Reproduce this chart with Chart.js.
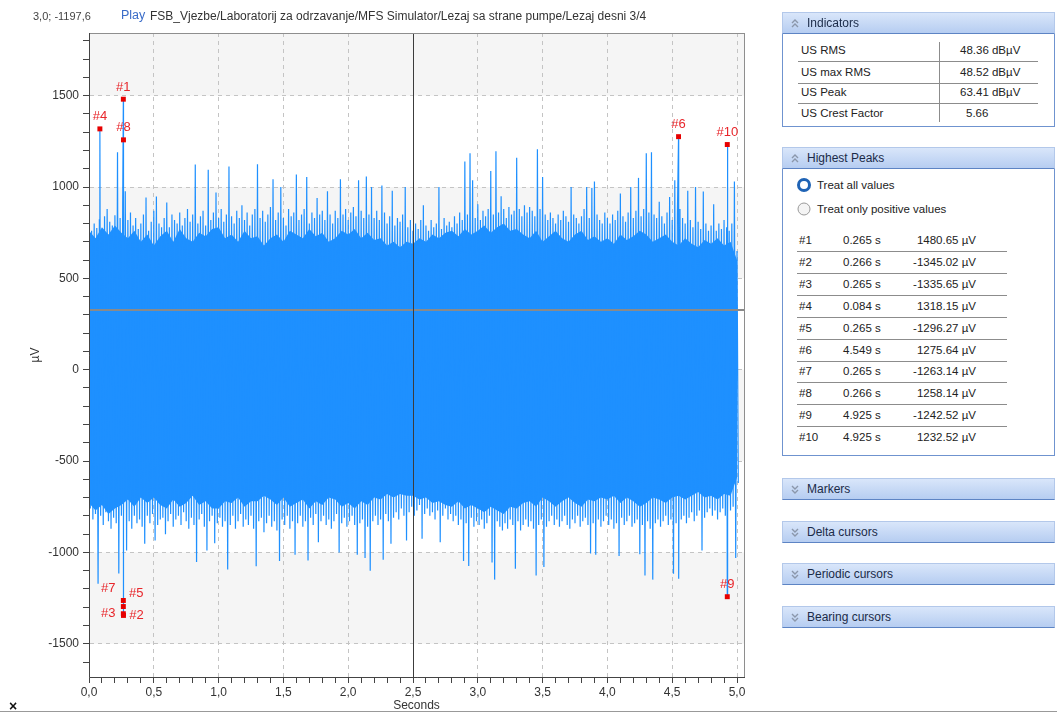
<!DOCTYPE html>
<html>
<head>
<meta charset="utf-8">
<script src="https://cdn.jsdelivr.net/npm/chart.js@4.4.0/dist/chart.umd.min.js"></script>
<style>
body{margin:0;width:1057px;height:713px;overflow:hidden;background:#fff;font-family:"Liberation Sans",Arial,sans-serif;position:relative}
#grafico{position:absolute;left:0;top:0}
.txt{position:absolute;white-space:nowrap;line-height:14px}
.head{position:absolute;left:782px;width:271px;height:20px;background:linear-gradient(#d9e6fa,#b6cdf1);border:1px solid #b3c8ea;border-bottom:1px solid #5d84c4;font-size:12px;color:#1b2b48;line-height:20px}
.head span{position:absolute;left:24px}
.head svg{position:absolute;left:8px;top:5px}
.box{position:absolute;left:782px;width:271px;border:1px solid #6f93cf;border-top:none}
.sep{position:absolute;height:1px;background:#8c8c8c}
.panel{font-size:11.5px;color:#222}
</style>
</head>
<body>
<canvas id="grafico" width="770" height="713"></canvas>

<div class="txt" style="left:33px;top:9px;font-size:11px;color:#444">3,0; -1197,6</div>
<div class="txt" style="left:121px;top:8px;font-size:12.5px;color:#3a6cc8">Play</div>
<div class="txt" style="left:150px;top:9px;font-size:12px;color:#333">FSB_Vjezbe/Laboratorij za odrzavanje/MFS Simulator/Lezaj sa strane pumpe/Lezaj desni 3/4</div>
<div class="txt" style="left:9px;top:699px;font-size:14px;font-weight:bold;color:#111">×</div>
<div class="sep" style="left:0;top:711px;width:1057px;background:#999"></div>

<div id="panel" class="panel"></div>

<script>
// Datos de la señal (envolvente, paso 0.02 s)
var paso = 0.02;
var envolventeSup = [
  790, 760, 800, 775, 820, 760, 840, 880, 810, 790,
  845, 1190, 830, 900, 977, 820, 860, 790, 830, 770,
  800, 850, 943, 760, 810, 870, 948, 800, 780, 830,
  915, 780, 850, 820, 800, 860, 790, 830, 880, 810,
  850, 1123, 800, 840, 870, 790, 1094, 820, 860, 970,
  830, 880, 810, 850, 1112, 840, 800, 870, 830, 900,
  820, 860, 790, 850, 880, 1125, 830, 870, 810, 850,
  890, 1043, 820, 860, 1000, 830, 790, 880, 840, 860,
  1068, 820, 850, 880, 1055, 800, 860, 830, 940, 850,
  870, 820, 977, 850, 800, 870, 830, 1043, 850, 880,
  820, 860, 890, 840, 1037, 870, 830, 1058, 850, 1000,
  830, 870, 820, 1008, 860, 800, 840, 980, 790, 830,
  810, 850, 1000, 780, 820, 760, 800, 770, 820, 900,
  790, 760, 820, 780, 800, 1000, 770, 830, 790, 810,
  780, 840, 800, 860, 820, 1140, 850, 1185, 1037, 830,
  905, 820, 870, 840, 880, 1087, 850, 1196, 860, 950,
  880, 830, 890, 850, 870, 1160, 880, 840, 900, 860,
  890, 870, 840, 1207, 880, 1055, 850, 820, 860, 830,
  800, 850, 820, 870, 840, 810, 1000, 850, 830, 800,
  840, 880, 1000, 830, 995, 1030, 850, 820, 800, 860,
  830, 800, 850, 820, 870, 965, 840, 810, 860, 1000,
  830, 870, 1050, 840, 880, 1185, 860, 1190, 850, 830,
  920, 840, 800, 860, 945, 820, 1037, 850, 880, 830,
  800, 980, 820, 780, 1000, 810, 770, 975, 800, 760,
  790, 905, 760, 800, 770, 820, 780, 760, 800, 1030,
  650
];
var envolventeInf = [
  -760, -820, -790, -1171, -800, -850, -780, -830, -870, -810,
  -840, -1116, -800, -850, -990, -830, -870, -800, -840, -820,
  -860, -952, -800, -840, -790, -935, -850, -820, -810, -900,
  -830, -790, -860, -820, -800, -850, -780, -830, -870, -810,
  -850, -1052, -820, -790, -860, -990, -830, -800, -950, -840,
  -810, -860, -830, -1094, -850, -800, -870, -830, -790, -860,
  -820, -850, -800, -870, -1076, -830, -810, -890, -840, -800,
  -860, -830, -880, -1047, -820, -850, -800, -870, -830, -1013,
  -840, -800, -860, -830, -1044, -810, -850, -790, -945, -830,
  -800, -850, -820, -870, -830, -790, -1000, -840, -810, -860,
  -830, -800, -850, -1013, -840, -820, -1030, -860, -1100, -830,
  -800, -850, -820, -1040, -790, -830, -952, -810, -780, -820,
  -760, -800, -935, -780, -750, -800, -770, -740, -925, -790,
  -760, -800, -780, -820, -770, -945, -800, -760, -820, -790,
  -830, -800, -850, -820, -1047, -840, -1075, -810, -860, -830,
  -850, -820, -870, -840, -800, -1055, -1149, -830, -860, -880,
  -840, -870, -820, -850, -1089, -830, -880, -850, -820, -860,
  -830, -870, -1126, -850, -820, -1080, -860, -830, -800, -850,
  -820, -860, -830, -800, -850, -870, -820, -840, -800, -860,
  -830, -810, -850, -1006, -840, -1013, -820, -860, -830, -800,
  -850, -820, -870, -840, -1020, -810, -850, -830, -800, -860,
  -840, -820, -1010, -850, -1126, -830, -870, -1149, -840, -820,
  -860, -830, -800, -850, -820, -1117, -840, -1144, -820, -800,
  -840, -810, -780, -830, -800, -770, -990, -810, -780, -760,
  -800, -770, -820, -780, -760, -800, -790, -770, -750, -1030,
  -620
];

// Borde de la zona densa de la señal (paso 0.05 s)
var pasoNucleo = 0.05;
var nucleoSup = [
  760, 720, 780, 740, 790, 750, 720, 760, 700, 740,
  680, 730, 760, 700, 770, 720, 700, 750, 730, 770,
  780, 720, 740, 700, 760, 720, 730, 680, 720, 740,
  700, 760, 740, 720, 770, 730, 750, 700, 720, 760,
  740, 770, 720, 750, 710, 720, 680, 700, 670, 700,
  690, 720, 700, 740, 720, 750, 760, 730, 770, 740,
  760, 790, 750, 780, 800, 760, 770, 740, 720, 760,
  700, 730, 760, 720, 700, 740, 760, 710, 730, 700,
  720, 690, 740, 710, 730, 760, 740, 700, 720, 740,
  700, 680, 720, 690, 670, 710, 690, 720, 680, 700,
  600
];
var nucleoInf = [
  -730, -770, -740, -790, -760, -740, -710, -750, -700, -730,
  -700, -740, -760, -710, -750, -730, -690, -740, -720, -760,
  -760, -720, -730, -700, -750, -720, -720, -690, -710, -740,
  -700, -750, -730, -710, -760, -720, -740, -700, -710, -750,
  -730, -760, -720, -740, -700, -710, -680, -700, -680, -690,
  -690, -710, -700, -730, -720, -740, -750, -720, -760, -740,
  -760, -780, -750, -770, -790, -750, -760, -730, -720, -750,
  -700, -720, -750, -720, -700, -730, -750, -710, -720, -700,
  -710, -690, -730, -700, -720, -750, -730, -700, -710, -730,
  -700, -690, -710, -690, -670, -700, -690, -710, -680, -690,
  -590
];

// Picos mas altos
var picoNombre = ['#1', '#2', '#3', '#4', '#5', '#6', '#7', '#8', '#9', '#10'];
var picoTiempo = [0.265, 0.266, 0.265, 0.084, 0.265, 4.549, 0.265, 0.266, 4.925, 4.925];
var picoValor = [1480.65, -1345.02, -1335.65, 1318.15, -1296.27, 1275.64, -1263.14, 1258.14, -1242.52, 1232.52];

// Indicadores
var indicadorNombre = ['US RMS', 'US max RMS', 'US Peak', 'US Crest Factor'];
var indicadorValor = ['48.36 dBµV', '48.52 dBµV', '63.41 dBµV', '5.66'];

// Ejes
var ticksX = [];
for (var a = 0; a <= 50; a++) ticksX.push(a / 10);
var ticksY = [];
for (var b = -16; b <= 18; b++) ticksY.push(b * 100);
var cursorX = 2.5;
var cursorY = 325;

var panelesCerrados = ['Markers', 'Delta cursors', 'Periodic cursors', 'Bearing cursors'];

function chevron(arriba){
  var p1 = arriba ? '1,5 4,2 7,5' : '1,2 4,5 7,2';
  var p2 = arriba ? '1,9 4,6 7,9' : '1,6 4,9 7,6';
  return '<svg width="9" height="11"><polyline points="' + p1 + '" fill="none" stroke="#8b97ab" stroke-width="1.4"/>' +
         '<polyline points="' + p2 + '" fill="none" stroke="#8b97ab" stroke-width="1.4"/></svg>';
}

function ArmarPanel(){
  var h = '';
  // Indicators
  h += '<div class="head" style="top:12px">' + chevron(true) + '<span>Indicators</span></div>';
  h += '<div class="box" style="top:34px;height:92px"></div>';
  var filasInd = [50, 72, 92, 113];
  for (var i = 0; i < indicadorNombre.length; i++) {
    h += '<div class="txt" style="left:801px;top:' + (filasInd[i] - 7) + 'px">' + indicadorNombre[i] + '</div>';
    var izq = indicadorValor[i].indexOf('dB') > 0 ? 960 : 966;
    h += '<div class="txt" style="left:' + izq + 'px;top:' + (filasInd[i] - 7) + 'px">' + indicadorValor[i] + '</div>';
    if (i < indicadorNombre.length - 1) {
      h += '<div class="sep" style="left:798px;width:240px;top:' + (filasInd[i] + 11) + 'px"></div>';
    }
  }
  h += '<div class="sep" style="left:939px;width:1px;height:80px;top:42px"></div>';

  // Highest Peaks
  h += '<div class="head" style="top:147px">' + chevron(true) + '<span>Highest Peaks</span></div>';
  h += '<div class="box" style="top:169px;height:286px"></div>';
  h += '<svg style="position:absolute;left:796px;top:177px" width="16" height="16"><circle cx="8" cy="8" r="5.5" fill="#fff" stroke="#1f63b5" stroke-width="3"/></svg>';
  h += '<div class="txt" style="left:817px;top:178px">Treat all values</div>';
  h += '<svg style="position:absolute;left:796px;top:201px" width="16" height="16"><circle cx="8" cy="8" r="6" fill="#f4f4f4" stroke="#9a9a9a" stroke-width="1"/></svg>';
  h += '<div class="txt" style="left:817px;top:202px">Treat only positive values</div>';
  for (var k = 0; k < picoNombre.length; k++) {
    var yc = 240 + k * 21.9;
    h += '<div class="txt" style="left:799px;top:' + (yc - 7) + 'px">' + picoNombre[k] + '</div>';
    h += '<div class="txt" style="left:843px;top:' + (yc - 7) + 'px">' + picoTiempo[k].toFixed(3) + ' s</div>';
    h += '<div class="txt" style="right:' + (1057 - 976) + 'px;top:' + (yc - 7) + 'px">' + picoValor[k].toFixed(2) + ' µV</div>';
    if (k < picoNombre.length - 1) {
      h += '<div class="sep" style="left:797px;width:210px;top:' + Math.round(yc + 11) + 'px"></div>';
    }
  }

  // Paneles cerrados
  for (var j = 0; j < panelesCerrados.length; j++) {
    h += '<div class="head" style="top:' + (478 + j * 42.7) + 'px">' + chevron(false) + '<span>' + panelesCerrados[j] + '</span></div>';
  }
  document.getElementById('panel').innerHTML = h;
}

function esMayorY(v){ return Math.round(v) % 500 === 0; }
function esMayorX(v){ return Math.round(v * 10) % 5 === 0; }

// Fondo con bandas alternadas (gris en 500-1000, 1500-2000, -500-0, -1500--1000)
var pluginBandas = {
  id: 'bandas',
  beforeDraw: function(chart){
    var ctx = chart.ctx, area = chart.chartArea, y = chart.scales.y;
    ctx.save();
    ctx.fillStyle = '#fff';
    ctx.fillRect(area.left, area.top, area.right - area.left, area.bottom - area.top);
    ctx.fillStyle = '#f5f5f5';
    for (var v = -2000; v < 2000; v += 500) {
      if (Math.abs(Math.round(v / 500)) % 2 !== 1) continue;
      var t = Math.max(y.getPixelForValue(v + 500), area.top);
      var bt = Math.min(y.getPixelForValue(v), area.bottom);
      if (bt > t) ctx.fillRect(area.left, t, area.right - area.left, bt - t);
    }
    ctx.restore();
  }
};

// Cursores, marco y etiquetas de picos
var posEtiqueta = {'#7': [-15, -12], '#5': [13, -13], '#3': [-15, 0], '#2': [13, 0]};
var pluginExtras = {
  id: 'extras',
  afterDatasetsDraw: function(chart){
    var ctx = chart.ctx, area = chart.chartArea, sx = chart.scales.x, sy = chart.scales.y;
    ctx.save();
    // cursor horizontal
    var py = Math.round(sy.getPixelForValue(cursorY));
    ctx.strokeStyle = '#8a8a8a';
    ctx.lineWidth = 2;
    ctx.beginPath(); ctx.moveTo(area.left, py); ctx.lineTo(area.right, py); ctx.stroke();
    // cursor vertical
    var px = Math.round(sx.getPixelForValue(cursorX)) + 0.5;
    ctx.strokeStyle = '#3c3c3c';
    ctx.lineWidth = 1;
    ctx.beginPath(); ctx.moveTo(px, area.top); ctx.lineTo(px, area.bottom); ctx.stroke();
    // marco
    ctx.strokeStyle = '#8e8e8e';
    ctx.strokeRect(area.left + 0.5, area.top + 0.5, area.right - area.left, area.bottom - area.top);
    ctx.strokeStyle = '#444';
    ctx.beginPath();
    ctx.moveTo(area.left + 0.5, area.top); ctx.lineTo(area.left + 0.5, area.bottom + 0.5);
    ctx.lineTo(area.right + 1, area.bottom + 0.5);
    ctx.stroke();
    // etiquetas
    ctx.fillStyle = '#e8262b';
    ctx.font = '13px "Liberation Sans", Arial, sans-serif';
    ctx.textAlign = 'center';
    ctx.textBaseline = 'middle';
    for (var i = 0; i < picoNombre.length; i++) {
      var off = posEtiqueta[picoNombre[i]] || [0, -12];
      var x = sx.getPixelForValue(picoTiempo[i]);
      var y = sy.getPixelForValue(picoValor[i]);
      ctx.fillText(picoNombre[i], x + off[0], y + off[1]);
    }
    ctx.restore();
  }
};

function GraficoSenal(){
  var puntos = [];
  for (var i = 0; i < envolventeSup.length; i++) {
    puntos.push({x: i * paso, y: envolventeSup[i]});
    puntos.push({x: i * paso + paso / 2, y: envolventeInf[i]});
  }
  for (var k = 0; k < picoTiempo.length; k++) {
    puntos.push({x: picoTiempo[k], y: picoValor[k]});
  }
  puntos.sort(function(a, b){ return a.x - b.x; });

  var bordeSup = nucleoSup.map(function(v, i){ return {x: i * pasoNucleo, y: v}; });
  var bordeInf = nucleoInf.map(function(v, i){ return {x: i * pasoNucleo, y: v}; });

  var marcas = picoTiempo.map(function(t, i){ return {x: t, y: picoValor[i]}; });

  var azul = 'rgb(30,144,255)';
  var ctx = document.getElementById('grafico').getContext('2d');
  var config = {
    type: 'line',
    data: {
      datasets: [
        {
          type: 'scatter',
          data: marcas,
          pointStyle: 'rect',
          pointRadius: 3.5,
          backgroundColor: '#e60000',
          borderColor: '#e60000',
          borderWidth: 0
        },
        {
          data: puntos,
          borderColor: azul,
          borderWidth: 1.2,
          pointRadius: 0,
          tension: 0,
          fill: false
        },
        {
          data: bordeSup,
          borderColor: azul,
          borderWidth: 0,
          pointRadius: 0,
          fill: false
        },
        {
          data: bordeInf,
          borderColor: azul,
          backgroundColor: azul,
          borderWidth: 0,
          pointRadius: 0,
          fill: '-1'
        }
      ]
    },
    options: {
      responsive: false,
      animation: false,
      events: [],
      layout: {padding: {left: 0, top: 33, right: 26, bottom: 0}},
      plugins: {legend: {display: false}, tooltip: {enabled: false}},
      scales: {
        x: {
          type: 'linear',
          min: 0,
          max: 5.054,
          afterBuildTicks: function(eje){ eje.ticks = ticksX.map(function(v){ return {value: v}; }); },
          afterFit: function(eje){ eje.height = 36; },
          ticks: {
            autoSkip: false, maxRotation: 0, padding: 2, color: '#333',
            font: {size: 12, family: '"Liberation Sans", Arial, sans-serif'},
            callback: function(v){ return esMayorX(v) ? v.toFixed(1).replace('.', ',') : ''; }
          },
          grid: {
            color: function(c){ return c.tick && esMayorX(c.tick.value) ? '#c4c4c4' : 'rgba(0,0,0,0)'; },
            tickColor: '#444', tickLength: 6
          },
          border: {display: true, color: '#444', dash: [4, 4]},
          title: {display: true, text: 'Seconds', color: '#333', font: {size: 12, family: '"Liberation Sans", Arial, sans-serif'}, padding: {top: 0, bottom: 0}}
        },
        y: {
          min: -1682,
          max: 1843,
          afterBuildTicks: function(eje){ eje.ticks = ticksY.map(function(v){ return {value: v}; }); },
          afterFit: function(eje){ eje.width = 89; },
          ticks: {
            autoSkip: false, padding: 4, color: '#333',
            font: {size: 12, family: '"Liberation Sans", Arial, sans-serif'},
            callback: function(v){ return esMayorY(v) ? String(v) : ''; }
          },
          grid: {
            color: function(c){ return c.tick && esMayorY(c.tick.value) ? '#c4c4c4' : 'rgba(0,0,0,0)'; },
            tickColor: '#444', tickLength: 6
          },
          border: {display: true, color: '#444', dash: [4, 4]},
          title: {display: true, text: 'µV', color: '#333', font: {size: 12, family: '"Liberation Sans", Arial, sans-serif'}, padding: {top: 28, bottom: 0}}
        }
      }
    },
    plugins: [pluginBandas, pluginExtras]
  };
  var grafico = new Chart(ctx, config);
}

ArmarPanel();
GraficoSenal();
</script>
</body>
</html>
